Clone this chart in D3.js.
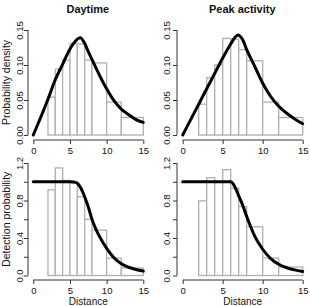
<!DOCTYPE html>
<html><head><meta charset="utf-8">
<script src="https://cdn.jsdelivr.net/npm/d3@7"></script>
<style>body{margin:0;background:#fff}svg{display:block}text{font-family:"Liberation Sans",Arial,sans-serif;fill:#111}</style>
</head><body>
<script>
// ---- data ----
const binEdges = [2,3,4,5,6,7,8,10,12,15];
const titles = ["Daytime","Peak activity"];
const densDay  = [0.054,0.094,0.107,0.131,0.130,0.107,0.103,0.047,0.025];
const densPeak = [0.044,0.082,0.100,0.138,0.137,0.122,0.106,0.047,0.025];
const detDay   = [0.914,1.147,1.014,0.990,0.840,0.600,0.484,0.186,0.080];
const detPeak  = [0.796,1.043,0.993,1.129,0.932,0.735,0.520,0.186,0.090];
const curveDensDay = [[0,0],[1,0.025],[2,0.051],[3,0.079],[4,0.101],[5,0.123],[5.5,0.131],[6,0.137],[6.4,0.139],[7,0.131],[7.5,0.119],[8,0.108],[9,0.086],[10,0.066],[11,0.049],[12,0.037],[13,0.029],[14,0.022],[15,0.018]];
const curveDensPeak = [[0,0],[1,0.022],[2,0.044],[3,0.066],[4,0.088],[5,0.110],[6,0.130],[6.5,0.139],[6.9,0.143],[7.5,0.136],[8,0.122],[9,0.098],[10,0.074],[11,0.055],[12,0.041],[13,0.031],[14,0.023],[15,0.016]];
const curveDetDay = [[0,1],[5,1],[5.5,0.998],[6,0.985],[6.5,0.93],[7,0.84],[7.5,0.73],[8,0.6],[8.5,0.5],[9,0.42],[10,0.29],[11,0.19],[12,0.125],[13,0.088],[14,0.064],[15,0.047]];
const curveDetPeak = [[0,1],[6,1],[6.5,0.95],[7,0.85],[7.5,0.75],[8,0.63],[8.5,0.52],[9,0.42],[10,0.28],[11,0.18],[12,0.12],[13,0.083],[14,0.06],[15,0.043]];
const xTicks = [0,5,10,15];
const densTicks = [0,0.05,0.10,0.15];
const detTicks = [0,0.2,0.4,0.6,0.8,1.0,1.2];
const detLabels = [0,0.4,0.8,1.2];

const W=310,H=306;
const svg=d3.select("body").append("svg").attr("width",W).attr("height",H);

const cols=[{x0:33.3,x1:143.3,ax:28,lab:20},{x0:182.7,x1:302.7,ax:177,lab:167}];
const rows=[{y0:135,y1:30,axY:140,tickY:153.5,dom:[0,0.15],ticks:densTicks,labels:densTicks,fmt:d3.format(".2f"),ylab:"Probability density"},
            {y0:275.5,y1:163,axY:280,tickY:294,dom:[0,1.2],ticks:detTicks,labels:detLabels,fmt:d3.format(".1f"),ylab:"Detection probability"}];
const bars=[[densDay,densPeak],[detDay,detPeak]];
const curves=[[curveDensDay,curveDensPeak],[curveDetDay,curveDetPeak]];

rows.forEach((r,ri)=>{
  cols.forEach((c,ci)=>{
    const x=d3.scaleLinear().domain([0,15]).range([c.x0,c.x1]);
    const y=d3.scaleLinear().domain(r.dom).range([r.y0,r.y1]);
    const g=svg.append("g");
    const vals=bars[ri][ci];
    g.selectAll("rect").data(vals).join("rect")
      .attr("x",(d,i)=>x(binEdges[i])).attr("width",(d,i)=>x(binEdges[i+1])-x(binEdges[i]))
      .attr("y",d=>y(d)).attr("height",d=>y(0)-y(d))
      .attr("fill","#fff").attr("stroke","#b0b0b0").attr("stroke-width",1.3);
    g.append("path").datum(curves[ri][ci])
      .attr("d",d3.line().x(d=>x(d[0])).y(d=>y(d[1])).curve(d3.curveMonotoneX))
      .attr("fill","none").attr("stroke","#000").attr("stroke-width",3).attr("stroke-linecap","round");
    const xa=d3.axisBottom(x).tickValues(xTicks).tickSize(4).tickPadding(2).tickFormat(d3.format("d"));
    const gx=g.append("g").attr("transform",`translate(0,${r.axY})`).call(xa);
    gx.select(".domain").attr("stroke","#333").attr("d",`M${x(0)},0H${x(15)}`);
    gx.selectAll(".tick line").attr("stroke","#333");
    gx.selectAll(".tick text").attr("font-size",9.5).attr("dy",null)
      .attr("y",r.tickY-r.axY).style("fill","#111");
    const ya=d3.axisLeft(y).tickValues(r.ticks).tickSize(4).tickFormat(d=>r.labels.some(l=>Math.abs(l-d)<1e-9)?r.fmt(d):"");
    const gy=g.append("g").attr("transform",`translate(${c.ax},0)`).call(ya);
    gy.select(".domain").attr("stroke","#333").attr("d",`M0,${y(r.dom[0])}V${y(r.dom[1])}`);
    gy.selectAll(".tick line").attr("stroke","#333");
    gy.selectAll(".tick text").attr("font-size",9.5).attr("x",null).attr("dy",null)
      .attr("text-anchor","middle")
      .attr("transform",`translate(${c.lab-c.ax},0) rotate(-90)`).attr("dy","0.35em").style("fill","#111");
    if(ci===0){
      svg.append("text").attr("transform",`translate(${c.lab-14},${(r.y0+r.y1)/2}) rotate(-90)`)
        .attr("text-anchor","middle").attr("dy","0.35em").attr("font-size",10.5).text(r.ylab);
    }
    if(ri===0){
      svg.append("text").attr("x",(c.ax+x(15.6))/2).attr("y",13).attr("text-anchor","middle")
        .attr("font-size",11).attr("font-weight","bold").text(titles[ci]);
    }
    if(ri===1){
      svg.append("text").attr("x",x(7.5)).attr("y",304.5).attr("text-anchor","middle")
        .attr("font-size",10).text("Distance");
    }
  });
});
</script>
</body></html>
